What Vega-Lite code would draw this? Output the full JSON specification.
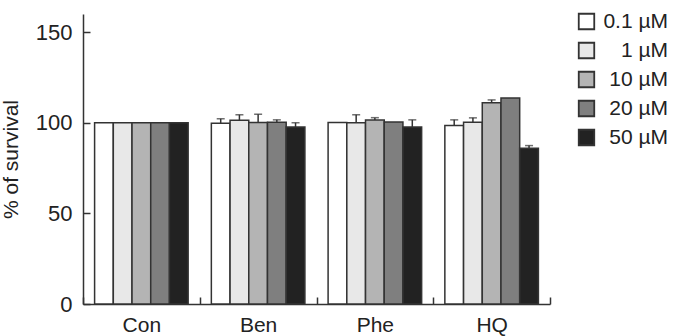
{
  "$schema": "https://vega.github.io/schema/vega-lite/v6.json",
  "width": 467,
  "height": 290,
  "autosize": "none",
  "padding": {"left": 83, "top": 14, "right": 127, "bottom": 32},
  "background": "white",
  "config": {
    "font": "Liberation Sans",
    "view": {"stroke": null},
    "axis": {"grid": false, "domainColor": "#333333", "domainWidth": 1.5, "tickColor": "#333333", "tickWidth": 1.5, "labelColor": "#222222", "titleColor": "#222222", "labelFont": "Liberation Sans", "titleFont": "Liberation Sans"}
  },
  "data": {
    "values": [
      {"group": "Con", "conc": "0.1 µM", "value": 100, "upper": null},
      {"group": "Con", "conc": "1 µM", "value": 100, "upper": null},
      {"group": "Con", "conc": "10 µM", "value": 100, "upper": null},
      {"group": "Con", "conc": "20 µM", "value": 100, "upper": null},
      {"group": "Con", "conc": "50 µM", "value": 100, "upper": null},
      {"group": "Ben", "conc": "0.1 µM", "value": 99.7, "upper": 102.2},
      {"group": "Ben", "conc": "1 µM", "value": 101.4, "upper": 104.4},
      {"group": "Ben", "conc": "10 µM", "value": 100.2, "upper": 104.7},
      {"group": "Ben", "conc": "20 µM", "value": 100.3, "upper": 101.6},
      {"group": "Ben", "conc": "50 µM", "value": 97.6, "upper": 100.0},
      {"group": "Phe", "conc": "0.1 µM", "value": 100.2, "upper": null},
      {"group": "Phe", "conc": "1 µM", "value": 100.0, "upper": 104.4},
      {"group": "Phe", "conc": "10 µM", "value": 101.5, "upper": 102.8},
      {"group": "Phe", "conc": "20 µM", "value": 100.4, "upper": null},
      {"group": "Phe", "conc": "50 µM", "value": 97.6, "upper": 101.6},
      {"group": "HQ", "conc": "0.1 µM", "value": 98.5, "upper": 101.6},
      {"group": "HQ", "conc": "1 µM", "value": 100.3, "upper": 102.7},
      {"group": "HQ", "conc": "10 µM", "value": 111.0, "upper": 112.6},
      {"group": "HQ", "conc": "20 µM", "value": 113.6, "upper": null},
      {"group": "HQ", "conc": "50 µM", "value": 86.0, "upper": 87.4}
    ]
  },
  "encoding": {
    "x": {
      "field": "group", "type": "nominal", "sort": ["Con", "Ben", "Phe", "HQ"],
      "scale": {"paddingInner": 0, "paddingOuter": 0},
      "axis": {"title": null, "labelAngle": 0, "labelFontSize": 21, "tickBand": "extent", "tickSize": -7, "labelPadding": 17, "labelBaseline": "top"}
    },
    "xOffset": {
      "field": "conc", "type": "nominal", "sort": ["0.1 µM", "1 µM", "10 µM", "20 µM", "50 µM"],
      "scale": {"paddingInner": 0, "paddingOuter": 0.62}
    }
  },
  "layer": [
    {
      "mark": {"type": "bar", "stroke": "#333333", "strokeWidth": 1.5},
      "encoding": {
        "y": {
          "field": "value", "type": "quantitative",
          "scale": {"domain": [0, 150]},
          "axis": {"title": "% of survival", "titleFontSize": 21, "titleFontWeight": "normal", "titlePadding": 14, "labelFontSize": 22, "values": [0, 50, 100, 150], "tickSize": -7, "labelPadding": 18}
        },
        "fill": {
          "field": "conc", "type": "nominal",
          "scale": {"domain": ["0.1 µM", "1 µM", "10 µM", "20 µM", "50 µM"], "range": ["#ffffff", "#e8e8e8", "#b4b4b4", "#7f7f7f", "#222222"]},
          "legend": {
            "title": null, "orient": "none", "legendX": 493, "legendY": -3,
            "symbolType": "square", "symbolSize": 240, "symbolStrokeColor": "#333333", "symbolStrokeWidth": 1.8,
            "labelFontSize": 21, "labelColor": "#222222", "labelAlign": "right", "labelOffset": 71, "rowPadding": 6
          }
        }
      }
    },
    {
      "transform": [{"filter": "datum.upper != null"}],
      "mark": {"type": "rule", "color": "#333333", "strokeWidth": 1.5},
      "encoding": {"y": {"field": "value", "type": "quantitative"}, "y2": {"field": "upper"}}
    },
    {
      "transform": [{"filter": "datum.upper != null"}],
      "mark": {"type": "tick", "color": "#333333", "thickness": 1.5, "size": 8, "orient": "horizontal"},
      "encoding": {"y": {"field": "upper", "type": "quantitative"}}
    }
  ]
}
